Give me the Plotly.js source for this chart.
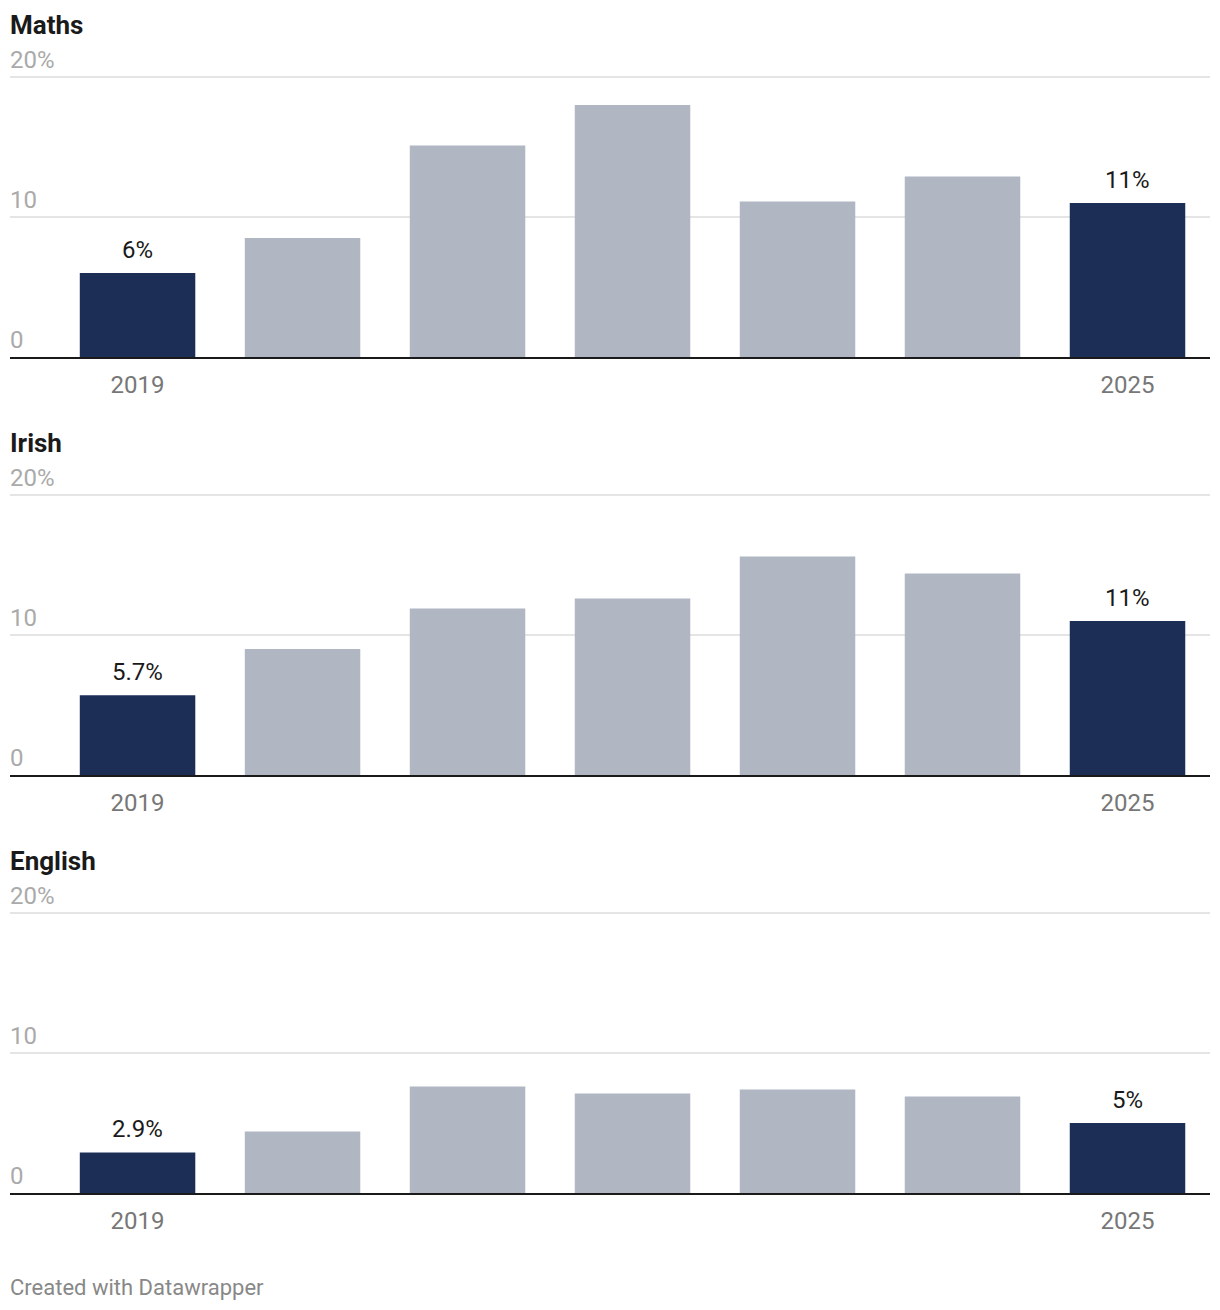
<!DOCTYPE html>
<html>
<head>
<meta charset="utf-8">
<script src="https://cdn.plot.ly/plotly-3.0.1.min.js"></script>
<style>html,body{margin:0;padding:0;background:#fff;}#chart{width:1220px;height:1310px;}</style>
</head>
<body>
<div id="chart"></div>
<script>
const years = [2019, 2020, 2021, 2022, 2023, 2024, 2025];
const subjects = ["Maths", "Irish", "English"];
const maths = [6, 8.5, 15.1, 18.0, 11.1, 12.9, 11];
const irish = [5.7, 9.0, 11.9, 12.6, 15.6, 14.4, 11];
const english = [2.9, 4.4, 7.6, 7.1, 7.4, 6.9, 5];
const series = [maths, irish, english];
const highlighted = [2019, 2025];
const yTickVals = [0, 10, 20];
const yTickText = ["0", "10", "20%"];
const xTickVals = [2019, 2025];
const footer = "Created with Datawrapper";

const W = 1220, H = 1310;
const NAVY = "#1d2e56", GREY = "#b0b6c2";
const FONT = "Roboto, 'Noto Sans', Arial, sans-serif";
const PX_PER_UNIT = 14;       // vertical scale of each panel
const YMAX = 23;              // headroom so the shifted "20%" label stays inside
const baselines = [357, 775, 1193];
const titleY = [25, 443, 861];

const data = [];
const annotations = [];
const layout = {
  width: W, height: H,
  margin: {l: 0, r: 0, t: 0, b: 0},
  paper_bgcolor: "#fff", plot_bgcolor: "rgba(0,0,0,0)",
  showlegend: false,
  font: {family: FONT},
  annotations: annotations
};

series.forEach((vals, i) => {
  const n = i === 0 ? "" : String(i + 1);
  data.push({
    type: "bar",
    x: years, y: vals,
    xaxis: "x" + n, yaxis: "y" + n,
    width: 0.7,
    marker: {color: years.map(y => highlighted.includes(y) ? NAVY : GREY)},
    hoverinfo: "skip"
  });
  const bot = baselines[i];
  const top = bot - YMAX * PX_PER_UNIT;
  layout["xaxis" + n] = {
    domain: [10 / W, 1210 / W],
    anchor: "y" + n,
    range: [2019 - 0.773, 2025.5],
    tickvals: xTickVals,
    ticktext: xTickVals.map(String),
    ticks: "", ticklen: 0,
    ticklabelstandoff: 5,
    tickfont: {size: 24, color: "#777777", family: FONT},
    showgrid: false, zeroline: false,
    showline: true, linecolor: "#1a1a1a", linewidth: 2,
    fixedrange: true
  };
  layout["yaxis" + n] = {
    domain: [1 - bot / H, 1 - top / H],
    anchor: "x" + n,
    range: [0, YMAX],
    tickvals: yTickVals,
    ticktext: yTickText,
    ticks: "",
    ticklabelposition: "inside",
    ticklabelshift: -17,
    ticklabelstandoff: -3,
    tickfont: {size: 24, color: "#aaaaaa", family: FONT},
    showgrid: true, gridcolor: "#e5e5e5", gridwidth: 2,
    zeroline: false, showline: false,
    fixedrange: true
  };
  annotations.push({
    xref: "paper", yref: "paper",
    x: 8 / W, y: 1 - titleY[i] / H,
    xanchor: "left", yanchor: "middle",
    text: "<b>" + subjects[i] + "</b>",
    showarrow: false,
    font: {size: 26, color: "#1a1a1a", family: FONT}
  });
  years.forEach((yr, k) => {
    if (!highlighted.includes(yr)) return;
    annotations.push({
      xref: "x" + n, yref: "y" + n,
      x: yr, y: vals[k],
      xanchor: "center", yanchor: "bottom",
      yshift: 7,
      text: vals[k] + "%",
      showarrow: false,
      font: {size: 24, color: "#1a1a1a", family: FONT}
    });
  });
});

annotations.push({
  xref: "paper", yref: "paper",
  x: 8 / W, y: 1 - 1287 / H,
  xanchor: "left", yanchor: "middle",
  text: footer,
  showarrow: false,
  font: {size: 22, color: "#888888", family: FONT}
});

Plotly.newPlot("chart", data, layout, {displayModeBar: false, staticPlot: true});
</script>
</body>
</html>
